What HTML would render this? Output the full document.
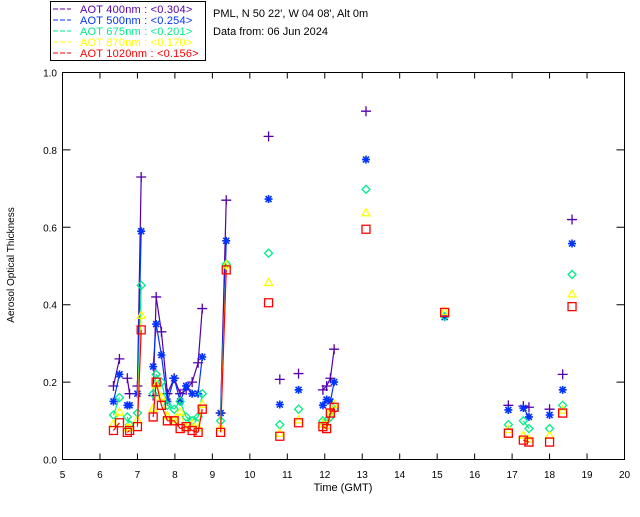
<!DOCTYPE html>
<html><head><meta charset="utf-8"><style>
body{margin:0;background:#fff;width:640px;height:512px;overflow:hidden}
svg{font-family:"Liberation Sans",sans-serif}
</style></head><body>
<svg id="chart" width="640" height="512">
<g>
<rect x="50.5" y="1.5" width="155" height="59" fill="none" stroke="#000"/>
</g>
<text x="213" y="17" font-size="11">PML, N 50 22', W 04 08', Alt 0m</text>
<text x="213" y="35" font-size="11">Data from: 06 Jun 2024</text>
<rect x="62.5" y="72.5" width="562" height="387" fill="none" stroke="#000"/>
<text x="14" y="265" font-size="10" transform="rotate(-90 14 265)" text-anchor="middle">Aerosol Optical Thickness</text>
<text x="343" y="491" font-size="11" text-anchor="middle">Time (GMT)</text>
<g id="axes"></g><g id="marks"></g><g id="leg"></g>
</svg>
<script>
const times=[6.36,6.52,6.73,6.79,7.0,7.1, 7.42,7.5,7.64,7.80,7.98,8.14,8.30,8.46,8.62,8.73, 9.22,9.37, 10.5,10.8,11.3, 11.95,12.05,12.15,12.25, 13.1,15.2,16.9,17.3,17.45,18.0,18.35,18.6];
const aot400=[0.19,0.26,0.21,0.17,0.19,0.73, 0.165,0.42,0.33,0.17,0.21,0.17,0.18,0.2,0.25,0.39, 0.12,0.67, 0.835,0.207,0.222, 0.18,0.19,0.21,0.285, 0.9,null,0.14,0.138,0.135,0.13,0.22,0.62];
const aot500=[0.15,0.22,0.14,0.14,0.17,0.59, 0.24,0.35,0.27,0.15,0.21,0.15,0.19,0.17,0.17,0.265, 0.12,0.565, 0.673,0.142,0.18, 0.14,0.155,0.15,0.2, 0.775,0.368,0.128,0.133,0.11,0.115,0.18,0.558];
const aot675=[0.115,0.16,0.11,0.09,0.12,0.45, 0.17,0.22,0.2,0.14,0.13,0.15,0.11,0.1,0.11,0.17, 0.1,0.505, 0.533,0.09,0.13, 0.1,0.1,0.11,0.13, 0.698,0.37,0.09,0.1,0.08,0.08,0.14,0.478];
const aot870=[0.09,0.12,0.08,0.08,0.1,0.37, 0.13,0.19,0.16,0.11,0.1,0.12,0.08,0.09,0.08,0.14, 0.08,0.5, 0.455,0.065,0.1, 0.09,0.085,0.12,0.14, 0.635,0.38,0.075,0.06,0.05,0.06,0.125,0.425];
const aot1020=[0.075,0.095,0.07,0.075,0.085,0.335, 0.11,0.2,0.14,0.1,0.1,0.08,0.085,0.075,0.07,0.13, 0.07,0.49, 0.405,0.06,0.095, 0.085,0.08,0.12,0.135, 0.595,0.38,0.068,0.05,0.045,0.045,0.12,0.395];
const xTicks=[5,6,7,8,9,10,11,12,13,14,15,16,17,18,19,20];
const yTicks=[0.0,0.2,0.4,0.6,0.8,1.0];
const legendLabels=["AOT  400nm : <0.304>","AOT  500nm : <0.254>","AOT  675nm : <0.201>","AOT  870nm : <0.170>","AOT 1020nm : <0.156>"];
const NS="http://www.w3.org/2000/svg";
const X=t=>62.5+(t-5)*(562/15);
const Y=v=>459.5-v*387;
function mk(tag,attrs,parent){const e=document.createElementNS(NS,tag);for(const k in attrs)e.setAttribute(k,attrs[k]);parent.appendChild(e);return e;}
const axes=document.getElementById('axes');
xTicks.forEach(t=>{
 const l=mk('path',{d:`M${X(t)},459.5v-6M${X(t)},72.5v6`,stroke:'#000'},axes);
 
 
 const tx=mk('text',{x:X(t),y:478,'font-size':10,'text-anchor':'middle'},axes);tx.textContent=t;
 
 
});
yTicks.forEach(v=>{
 const l=mk('path',{d:`M62.5,${Y(v)}h8M624.5,${Y(v)}h-8`,stroke:'#000'},axes);
 
 
 const tx=mk('text',{x:57,y:Y(v)+4,'font-size':10,'text-anchor':'end'},axes);tx.textContent=v.toFixed(1);
 
 
});
const series=[[aot400,'#5500aa','plus'],[aot500,'#0033ff','star'],[aot675,'#00ee88','diamond'],[aot870,'#ffff00','tri'],[aot1020,'#ff0000','square']];
const marks=document.getElementById('marks');
series.forEach(([vals,col,shape],si)=>{
 let d='';
 for(let i=1;i<times.length;i++){
  if(vals[i]!=null&&vals[i-1]!=null&&times[i]-times[i-1]<0.2)d+=`M${X(times[i-1])},${Y(vals[i-1])}L${X(times[i])},${Y(vals[i])}`;
 }
 const ln=mk('path',{d:d,stroke:col,fill:'none','stroke-width':1.2},marks);
 
 
 vals.forEach((v,i)=>{
  if(v==null)return;const x=X(times[i]),y=Y(v);let p;
  if(shape==='plus')p=`M${x-5},${y}h10M${x},${y-5}v10`;
  else if(shape==='star')p=`M${x-4},${y}h8M${x},${y-4}v8M${x-3},${y-3}l6,6M${x-3},${y+3}l6,-6`;
  else if(shape==='diamond')p=`M${x},${y-4}l4,4l-4,4l-4,-4z`;
  else if(shape==='tri')p=`M${x},${y-5}l4,7h-8z`;
  else p=`M${x-4},${y-4}h8v8h-8z`;
  const m=mk('path',{d:p,stroke:col,fill:'none','stroke-width':shape==='star'?1.6:1.3},marks);
  
  
 });
});
const leg=document.getElementById('leg');
series.forEach(([v,col],i)=>{
 const y=13+i*11;
 const l=mk('path',{d:`M53,${y-4}h18`,stroke:col,'stroke-dasharray':'5,2'},leg);
 
 
 const t=mk('text',{x:80,y:y,'font-size':11,fill:col,'letter-spacing':'0.2','xml:space':'preserve'},leg);t.textContent=legendLabels[i];
 
 
});
</script>
</body></html>
